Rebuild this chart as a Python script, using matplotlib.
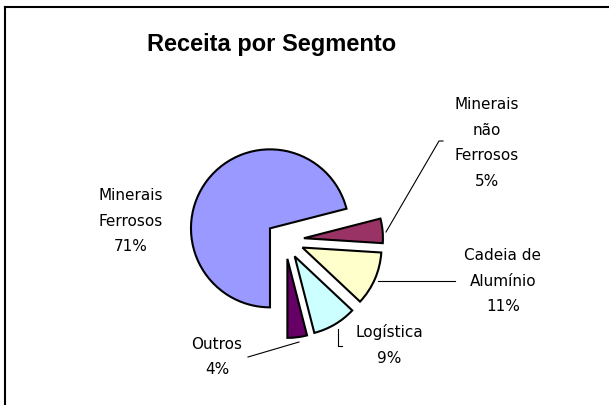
import matplotlib
matplotlib.use("Agg")
import matplotlib.pyplot as plt
from matplotlib.lines import Line2D

# --- DATA ---
segments = ["Minerais\nFerrosos", "Minerais\nnão\nFerrosos", "Cadeia de\nAlumínio",
            "Logística", "Outros"]
shares = [71, 5, 11, 9, 4]
colors = ["#9999FF", "#993366", "#FFFFCC", "#CCFFFF", "#660066"]

plt.rcParams['font.family'] = ['DejaVu Sans']

W, H = 609, 405
fig = plt.figure(figsize=(W / 100, H / 100), dpi=100)
ax = fig.add_axes([0, 0, 1, 1])
ax.axis('off')

# pie drawn in pixel units (y up); explode is an absolute offset
radius = 79
ax.pie(shares, colors=colors, startangle=-90, counterclock=False,
       explode=[19] * len(shares), center=(285, H - 240), radius=radius,
       wedgeprops=dict(edgecolor='black', linewidth=1.5))
ax.set_xlim(0, W)
ax.set_ylim(0, H)
ax.set_aspect('auto')

# labels: (x, y) in image pixels
label_pos = [(131, 221), (487, 143), (503, 281), (389, 345), (217, 357)]
for name, val, (x, y) in zip(segments, shares, label_pos):
    ax.text(x, H - y, f"{name}\n{val}%", ha='center', va='center',
            fontsize=11, linespacing=1.9)

# leader lines
leaders = [
    [(386, 232), (439, 141), (443, 141)],
    [(378, 281), (455, 281)],
    [(338, 329), (338, 346), (342, 346)],
    [(299, 342), (248, 357)],
]
for pts in leaders:
    xs = [p[0] for p in pts]
    ys = [H - p[1] for p in pts]
    ax.plot(xs, ys, color='black', linewidth=0.8)

ax.text(272, H - 44, "Receita por Segmento", ha='center', va='center',
        fontsize=17, fontweight='bold', family=['Liberation Sans', 'DejaVu Sans'])

# chart frame (top and left edges visible)
fig.add_artist(Line2D([5 / W, 1], [1 - 7 / H, 1 - 7 / H], color='black', linewidth=1.5))
fig.add_artist(Line2D([5 / W, 5 / W], [0, 1 - 7 / H], color='black', linewidth=1.5))

plt.savefig("out.png", dpi=100)
plt.close()
